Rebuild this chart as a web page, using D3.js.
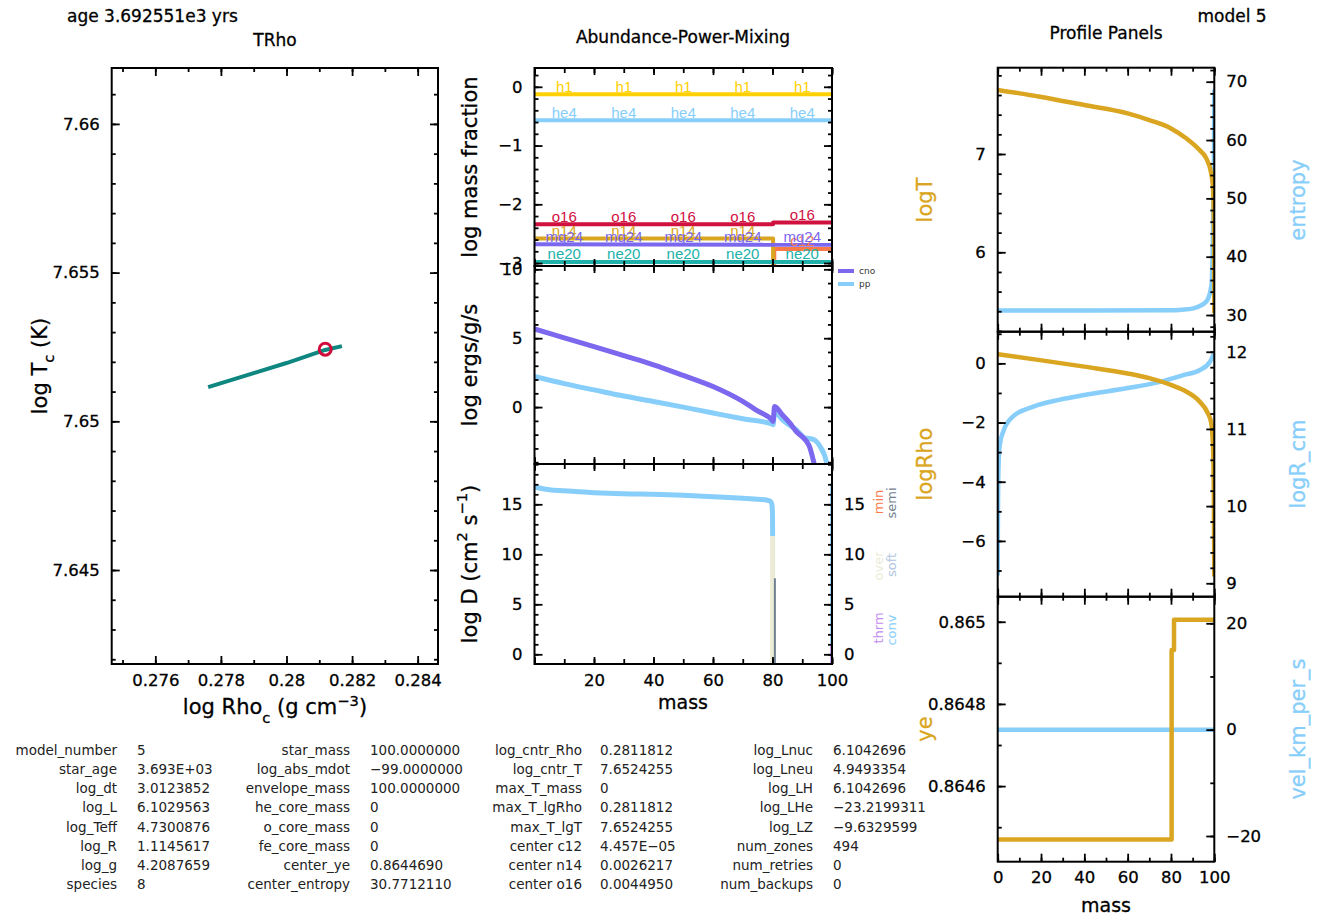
<!DOCTYPE html>
<html><head><meta charset="utf-8">
<script src="https://cdn.jsdelivr.net/npm/d3@7"></script>
<style>body{margin:0;background:#fff;} svg{display:block;}</style>
</head><body>
<script>
// ---------------- DATA ----------------
const ageText = "age 3.692551e3 yrs";
const modelText = "model 5";
// TRho history
const trhoLogRho = [0.28169, 0.28118, 0.28000, 0.27900, 0.27761];
const trhoLogT   = [7.65253, 7.65240, 7.65196, 7.65162, 7.65115];
const currentLogRho = 0.2811812, currentLogT = 7.6524255;
const trhoXTicks = [0.276, 0.278, 0.280, 0.282, 0.284];
const trhoYTicks = [7.645, 7.650, 7.655, 7.660];

// Abundances (log mass fraction vs mass)
const h1Mass = [0, 100],                 h1Frac = [-0.125, -0.125];
const he4Mass = [0, 100],                he4Frac = [-0.568, -0.568];
const c12Mass = [0, 80.6, 80.6, 100],    c12Frac = [-4.35, -4.35, -2.76, -2.76];
const n14Mass = [0, 80.2, 80.2],         n14Frac = [-2.58, -2.58, -3.6];
const o16Mass = [0, 80.2, 80.2, 100],    o16Frac = [-2.34, -2.34, -2.31, -2.31];
const ne20Mass = [0, 100],               ne20Frac = [-2.98, -2.98];
const mg24Mass = [0, 100],               mg24Frac = [-2.68, -2.69];
const abundLabelMass = [10, 30, 50, 70, 90];

// Power (log ergs/g/s)
const cnoMass = [0,10,20,30,40,50,60,70,75,80,80.2,80.7,83.3,86,88,90,91.5,92.5,93.3,94.2];
const cnoVal  = [5.67,5.03,4.39,3.73,3.07,2.30,1.49,0.41,-0.28,-0.98,-1.04,0.05,-0.56,-1.2,-1.77,-2.15,-2.5,-2.9,-3.5,-4.3];
const ppMass  = [0,10,20,30,40,50,60,70,80,80.2,80.7,83.3,86,88,90.6,94,96.3,97.5,98.5];
const ppVal   = [2.22,1.7,1.25,0.8,0.41,0.0,-0.43,-0.85,-1.24,-1.28,-0.32,-0.92,-1.35,-1.64,-2.2,-2.37,-2.97,-3.5,-4.3];

// Mixing (log D)
const convMass = [0,2,5,10,20,30,40,50,60,70,75,78,79.3,79.8,80.0,80.05];
const convLogD = [16.76,16.6,16.45,16.35,16.16,16.05,16.0,15.9,15.76,15.6,15.5,15.43,15.3,15.0,14.0,11.83];
const overMass = [80.05, 80.05],  overLogD = [11.83, -1.5];
const semiMass = [80.8, 80.8],    semiLogD = [7.6, -1.5];
const surfConvMass = [99.9, 99.9], surfConvLogD = [17.1, 1.0];
const thrmMass = [99.9, 99.9],    thrmLogD = [1.0, -1.5];
const mixNames = ["min", "semi", "over", "soft", "thrm", "conv"];

// Profiles
const tMass   = [0,19.5,40,60,70,80,87,93.2,96.3,98.6,99.4,99.9,100];
const logT    = [7.652,7.583,7.498,7.413,7.345,7.26,7.16,7.04,6.955,6.80,6.66,6.19,5.38];
const sMass   = [0,40,80,85,90.3,96.3,98.6,99.4,99.9,100];
const entropy = [30.77,30.77,30.8,30.9,31.15,32.3,34.85,44,60,68.6];
const rhoMass = [0,19.5,40,60,70,80,87,93.2,97,98.6,99.4,99.8,100];
const logRho  = [0.31,0.11,-0.11,-0.34,-0.5,-0.73,-0.95,-1.29,-1.68,-2.02,-2.81,-4.5,-7.2];
const rMass   = [0,0.05,0.2,0.5,1,2.6,7,16.5,28.8,40,60,75,86,93.2,98,99.7];
const logR    = [9.1,9.6,10.2,10.6,10.8,10.97,11.16,11.29,11.38,11.44,11.53,11.61,11.70,11.76,11.87,11.97];
const yeMass  = [0,80.3,80.3,81.4,81.4,100];
const ye      = [0.86447,0.86447,0.864931,0.864931,0.865005,0.865005];
const velMass = [0,100];
const vel     = [0,0];

// Text summary table
const col1Names = ["model_number","star_age","log_dt","log_L","log_Teff","log_R","log_g","species"];
const col1Vals  = ["5","3.693E+03","3.0123852","6.1029563","4.7300876","1.1145617","4.2087659","8"];
const col2Names = ["star_mass","log_abs_mdot","envelope_mass","he_core_mass","o_core_mass","fe_core_mass","center_ye","center_entropy"];
const col2Vals  = ["100.0000000","\u221299.0000000","100.0000000","0","0","0","0.8644690","30.7712110"];
const col3Names = ["log_cntr_Rho","log_cntr_T","max_T_mass","max_T_lgRho","max_T_lgT","center c12","center n14","center o16"];
const col3Vals  = ["0.2811812","7.6524255","0","0.2811812","7.6524255","4.457E\u221205","0.0026217","0.0044950"];
const col4Names = ["log_Lnuc","log_Lneu","log_LH","log_LHe","log_LZ","num_zones","num_retries","num_backups"];
const col4Vals  = ["6.1042696","4.9493354","6.1042696","\u221223.2199311","\u22129.6329599","494","0","0"];

// ---------------- STYLE ----------------
const FONT = "'DejaVu Sans', Verdana, sans-serif";
const C = {
  teal:"#0f8781", red:"#d10a3c", gold:"#ffd000", lblue:"#87cefa", crimson:"#d0103f",
  goldenrod:"#daa520", slate:"#7b68ee", seagreen:"#20b2aa", coral:"#fa7a4a",
  over:"#ececd6", semi:"#708090", soft:"#b0c4de", thrm:"#c38cf0"
};

const svg = d3.select("body").append("svg").attr("width",1322).attr("height",919)
  .attr("font-family", FONT);
svg.append("rect").attr("width",1322).attr("height",919).attr("fill","#fff");

let clipId = 0;
function makePanel(x0,x1,y0,y1,xd,yd,yd2){
  const p = {x0,x1,y0,y1};
  p.x = d3.scaleLinear().domain(xd).range([x0,x1]);
  p.y = d3.scaleLinear().domain(yd).range([y1,y0]);
  if (yd2) p.y2 = d3.scaleLinear().domain(yd2).range([y1,y0]);
  const id = "clip"+(clipId++);
  svg.append("clipPath").attr("id",id).append("rect").attr("x",x0).attr("y",y0).attr("width",x1-x0).attr("height",y1-y0);
  p.g = svg.append("g").attr("clip-path",`url(#${id})`);
  return p;
}
function rng(lo,hi,step){
  const out=[]; const s=Math.ceil(lo/step-1e-9), e=Math.floor(hi/step+1e-9);
  for(let i=s;i<=e;i++) out.push(+(i*step).toFixed(8));
  return out;
}
function axisAt(scale, orient, tx, ty, major, minor, opts={}){
  const {majLen=8, minLen=4, labels=false, pad=12, size=16.5, fmt=d3.format(""), skip=[]} = opts;
  const gen = {bottom:d3.axisBottom, top:d3.axisTop, left:d3.axisLeft, right:d3.axisRight}[orient];
  const dom = scale.domain();
  const mi = minor.filter(v=>v>=Math.min(...dom)&&v<=Math.max(...dom));
  const ma = major.filter(v=>v>=Math.min(...dom)&&v<=Math.max(...dom));
  const g1 = svg.append("g").attr("transform",`translate(${tx},${ty})`)
    .call(gen(scale).tickValues(mi).tickSize(-minLen).tickFormat(""));
  const g2 = svg.append("g").attr("transform",`translate(${tx},${ty})`)
    .call(gen(scale).tickValues(ma).tickSize(-majLen).tickPadding(pad)
      .tickFormat(v => (labels && !skip.includes(v)) ? fmt(v) : ""));
  [g1,g2].forEach(g=>{
    g.select(".domain").remove();
    g.selectAll("line").attr("stroke","#000").attr("stroke-width",1.8);
    g.attr("font-family",FONT).attr("font-size",size);
    g.selectAll("text").attr("fill","#000").attr("stroke","#000").attr("stroke-width",0.3);
  });
}
function frame(p){
  svg.append("rect").attr("x",p.x0).attr("y",p.y0).attr("width",p.x1-p.x0).attr("height",p.y1-p.y0)
    .attr("fill","none").attr("stroke","#000").attr("stroke-width",2);
}
function series(p, xs, ys, color, width, useY2, smooth){
  const sy = useY2 ? p.y2 : p.y;
  const pts = xs.map((m,i)=>[p.x(m), sy(ys[i])]);
  const gen = d3.line();
  if (smooth) gen.curve(d3.curveMonotoneX);
  p.g.append("path").attr("d", gen(pts)).attr("fill","none")
    .attr("stroke",color).attr("stroke-width",width).attr("stroke-linejoin","round");
}
function label(x,y,txt,opts={}){
  const {size=17, anchor="middle", color="#000", rotate=false, bold=0.3} = opts;
  const t = svg.append("text").attr("x",x).attr("y",y).attr("text-anchor",anchor)
    .attr("font-size",size).attr("fill",color).attr("stroke",color).attr("stroke-width",bold);
  if (rotate) t.attr("transform",`rotate(-90,${x},${y})`).attr("dominant-baseline","central");
  return t;
}
function richLabel(t, parts){
  parts.forEach(([s,shift])=>{
    const ts = t.append("tspan").text(s);
    if (shift) ts.attr("baseline-shift", shift).attr("font-size","70%");
  });
}

// ---------------- HEADER ----------------
label(67,22,ageText,{anchor:"start"}).text(ageText);
label(1232,22,modelText).text(modelText);
label(275,46,"TRho").text("TRho");
label(683,43,"").text("Abundance-Power-Mixing");
label(1106,39,"").text("Profile Panels");

// ---------------- TRho ----------------
const pT = makePanel(111.7,438,68,664,[0.27467,0.28462],[7.64184,7.66188]);
series(pT, trhoLogRho, trhoLogT, C.teal, 4);
pT.g.append("circle").attr("cx",pT.x(currentLogRho)).attr("cy",pT.y(currentLogT)).attr("r",6)
  .attr("fill","none").attr("stroke",C.red).attr("stroke-width",3);
frame(pT);
axisAt(pT.x,"bottom",0,pT.y1,trhoXTicks,rng(0.274,0.285,0.001),{labels:true,pad:10});
axisAt(pT.x,"top",0,pT.y0,trhoXTicks,rng(0.274,0.285,0.001));
axisAt(pT.y,"left",pT.x0,0,trhoYTicks,rng(7.641,7.662,0.001),{labels:true});
axisAt(pT.y,"right",pT.x1,0,trhoYTicks,rng(7.641,7.662,0.001));
richLabel(label(275,714,"",{size:21}), [["log Rho"],["c","sub"],[" (g cm"],["\u22123","super"],[")"]]);
richLabel(label(40,366,"",{size:21,rotate:true}), [["log T"],["c","sub"],[" (K)"]]);

// ---------------- Abundance / Power / Mixing ----------------
const MX = [534.5, 832];
const pA = makePanel(MX[0],MX[1],68,266,[0,100],[-3.05,0.32]);
const pP = makePanel(MX[0],MX[1],266,464,[0,100],[-4.13,10.24]);
const pM = makePanel(MX[0],MX[1],464,664,[0,100],[-0.97,19.03]);

const isoList = [
  ["h1",h1Mass,h1Frac,C.gold],["he4",he4Mass,he4Frac,C.lblue],["c12",c12Mass,c12Frac,C.coral],
  ["n14",n14Mass,n14Frac,C.goldenrod],["o16",o16Mass,o16Frac,C.crimson],
  ["ne20",ne20Mass,ne20Frac,C.seagreen],["mg24",mg24Mass,mg24Frac,C.slate]
];
isoList.forEach(([n,xs,ys,col])=>series(pA,xs,ys,col,4));
function interpStep(xs,ys,m){ // value of piecewise line at m
  for(let i=0;i<xs.length-1;i++){
    if (m>=xs[i] && m<=xs[i+1] && xs[i+1]>xs[i]) return ys[i]+(ys[i+1]-ys[i])*(m-xs[i])/(xs[i+1]-xs[i]);
  }
  return ys[ys.length-1];
}
isoList.forEach(([n,xs,ys,col])=>{
  abundLabelMass.forEach(m=>{
    const v = interpStep(xs,ys,m);
    if (v < pA.y.domain()[0]) return;
    pA.g.append("text").attr("x",pA.x(m)).attr("y",pA.y(v)-2.5).attr("text-anchor","middle")
      .attr("font-family","'Liberation Sans', Arial, sans-serif").attr("font-size",15).attr("fill",col).text(n);
  });
});

series(pP, ppMass, ppVal, C.lblue, 5, false, true);
series(pP, cnoMass, cnoVal, C.slate, 5, false, true);

series(pM, convMass, convLogD, C.lblue, 5, false, true);
series(pM, overMass, overLogD, C.over, 5);
series(pM, semiMass, semiLogD, C.semi, 2);
series(pM, surfConvMass, surfConvLogD, C.lblue, 3);
series(pM, thrmMass, thrmLogD, C.thrm, 3);

[pA,pP,pM].forEach(frame);
const massMajor = rng(0,100,20), massMinor = rng(0,100,10);
[pA,pP,pM].forEach(p=>{
  axisAt(p.x,"top",0,p.y0,massMajor,massMinor,{majLen:7,minLen:5});
  axisAt(p.x,"bottom",0,p.y1,massMajor,massMinor,{majLen:7,minLen:5, labels:p===pM, pad:10, skip:[0]});
});
axisAt(pA.y,"left",pA.x0,0,rng(-3,0,1),rng(-3.2,0.4,0.2),{labels:true});
axisAt(pA.y,"right",pA.x1,0,rng(-3,0,1),rng(-3.2,0.4,0.2));
axisAt(pP.y,"left",pP.x0,0,rng(-5,10,5),rng(-5,11,1),{labels:true});
axisAt(pP.y,"right",pP.x1,0,rng(-5,10,5),rng(-5,11,1));
axisAt(pM.y,"left",pM.x0,0,rng(0,15,5),rng(-1,19,1),{labels:true});
axisAt(pM.y,"right",pM.x1,0,rng(0,15,5),rng(-1,19,1),{labels:true});

// power legend
[["cno",C.slate,271],["pp",C.lblue,284]].forEach(([n,c,y])=>{
  svg.append("line").attr("x1",838).attr("x2",854).attr("y1",y).attr("y2",y).attr("stroke",c).attr("stroke-width",4);
  svg.append("text").attr("x",859).attr("y",y+3).attr("font-size",9).attr("fill","#333").text(n);
});
// mixing type labels
const mixColors = {min:C.coral, semi:C.semi, over:C.over, soft:C.soft, thrm:C.thrm, conv:C.lblue};
const mixPos = {min:[878,502], semi:[891,503], over:[878,566], soft:[891,565], thrm:[878,628], conv:[891,630]};
mixNames.forEach(n=>{
  label(mixPos[n][0],mixPos[n][1],"",{size:13,color:mixColors[n],rotate:true,bold:0}).text(n);
});

label(470,167,"",{size:21,rotate:true}).text("log mass fraction");
label(470,365,"",{size:21,rotate:true}).text("log ergs/g/s");
richLabel(label(470,564,"",{size:21,rotate:true}), [["log D (cm"],["2","super"],[" s"],["\u22121","super"],[")"]]);
label(683,709,"",{size:19}).text("mass");

// ---------------- Profile panels ----------------
const PX = [997.7, 1214.3];
const p1 = makePanel(PX[0],PX[1],67.7,331.7,[0,100],[5.192,7.878],[27.14,72.4]);
const p2 = makePanel(PX[0],PX[1],331.7,596.7,[0,100],[-7.885,1.07],[8.826,12.26]);
const p3 = makePanel(PX[0],PX[1],596.7,861.7,[0,100],[0.864416,0.865061],[-24.83,25.0]);

series(p1, sMass, entropy, C.lblue, 4.5, true, true);
series(p1, tMass, logT, C.goldenrod, 4.5, false, true);
series(p2, rMass, logR, C.lblue, 4.5, true, true);
series(p2, rhoMass, logRho, C.goldenrod, 4.5, false, true);
series(p3, velMass, vel, C.lblue, 4.5, true);
series(p3, yeMass, ye, C.goldenrod, 4.5);

[p1,p2,p3].forEach(p=>{
  frame(p);
  axisAt(p.x,"top",0,p.y0,massMajor,massMinor);
  axisAt(p.x,"bottom",0,p.y1,massMajor,massMinor,{labels:p===p3,pad:10});
});
axisAt(p1.y,"left",p1.x0,0,rng(5,8,1),rng(5.2,7.8,0.2),{labels:true});
axisAt(p1.y2,"right",p1.x1,0,rng(30,70,10),rng(28,72,2),{labels:true});
axisAt(p2.y,"left",p2.x0,0,rng(-6,0,2),rng(-7,1,1),{labels:true});
axisAt(p2.y2,"right",p2.x1,0,rng(9,12,1),rng(8.8,12.2,0.2),{labels:true});
axisAt(p3.y,"left",p3.x0,0,[0.8646,0.8648,0.865],rng(0.8645,0.8650,0.0001),{labels:true,fmt:d3.format(".4~f")});
axisAt(p3.y2,"right",p3.x1,0,rng(-20,20,20),rng(-20,20,10),{labels:true});

label(925,200,"",{size:21,rotate:true,color:C.goldenrod}).text("logT");
label(1298,200,"",{size:21,rotate:true,color:C.lblue}).text("entropy");
label(925,464,"",{size:21,rotate:true,color:C.goldenrod}).text("logRho");
label(1298,464,"",{size:21,rotate:true,color:C.lblue}).text("logR_cm");
label(925,729,"",{size:21,rotate:true,color:C.goldenrod}).text("ye");
label(1298,729,"",{size:21,rotate:true,color:C.lblue}).text("vel_km_per_s");
label(1106,912,"",{size:19}).text("mass");

// ---------------- Summary table ----------------
const cols = [[col1Names,col1Vals,117,137],[col2Names,col2Vals,350,370],[col3Names,col3Vals,582,600],[col4Names,col4Vals,813,833]];
const tbl = svg.append("g").attr("font-size",13.5).attr("fill","#222");
cols.forEach(([names,vals,nx,vx])=>{
  names.forEach((n,i)=>{
    const y = 755 + i*19.15;
    tbl.append("text").attr("x",nx).attr("y",y).attr("text-anchor","end").text(n);
    tbl.append("text").attr("x",vx).attr("y",y).attr("text-anchor","start").text(vals[i]);
  });
});
</script>
</body></html>
